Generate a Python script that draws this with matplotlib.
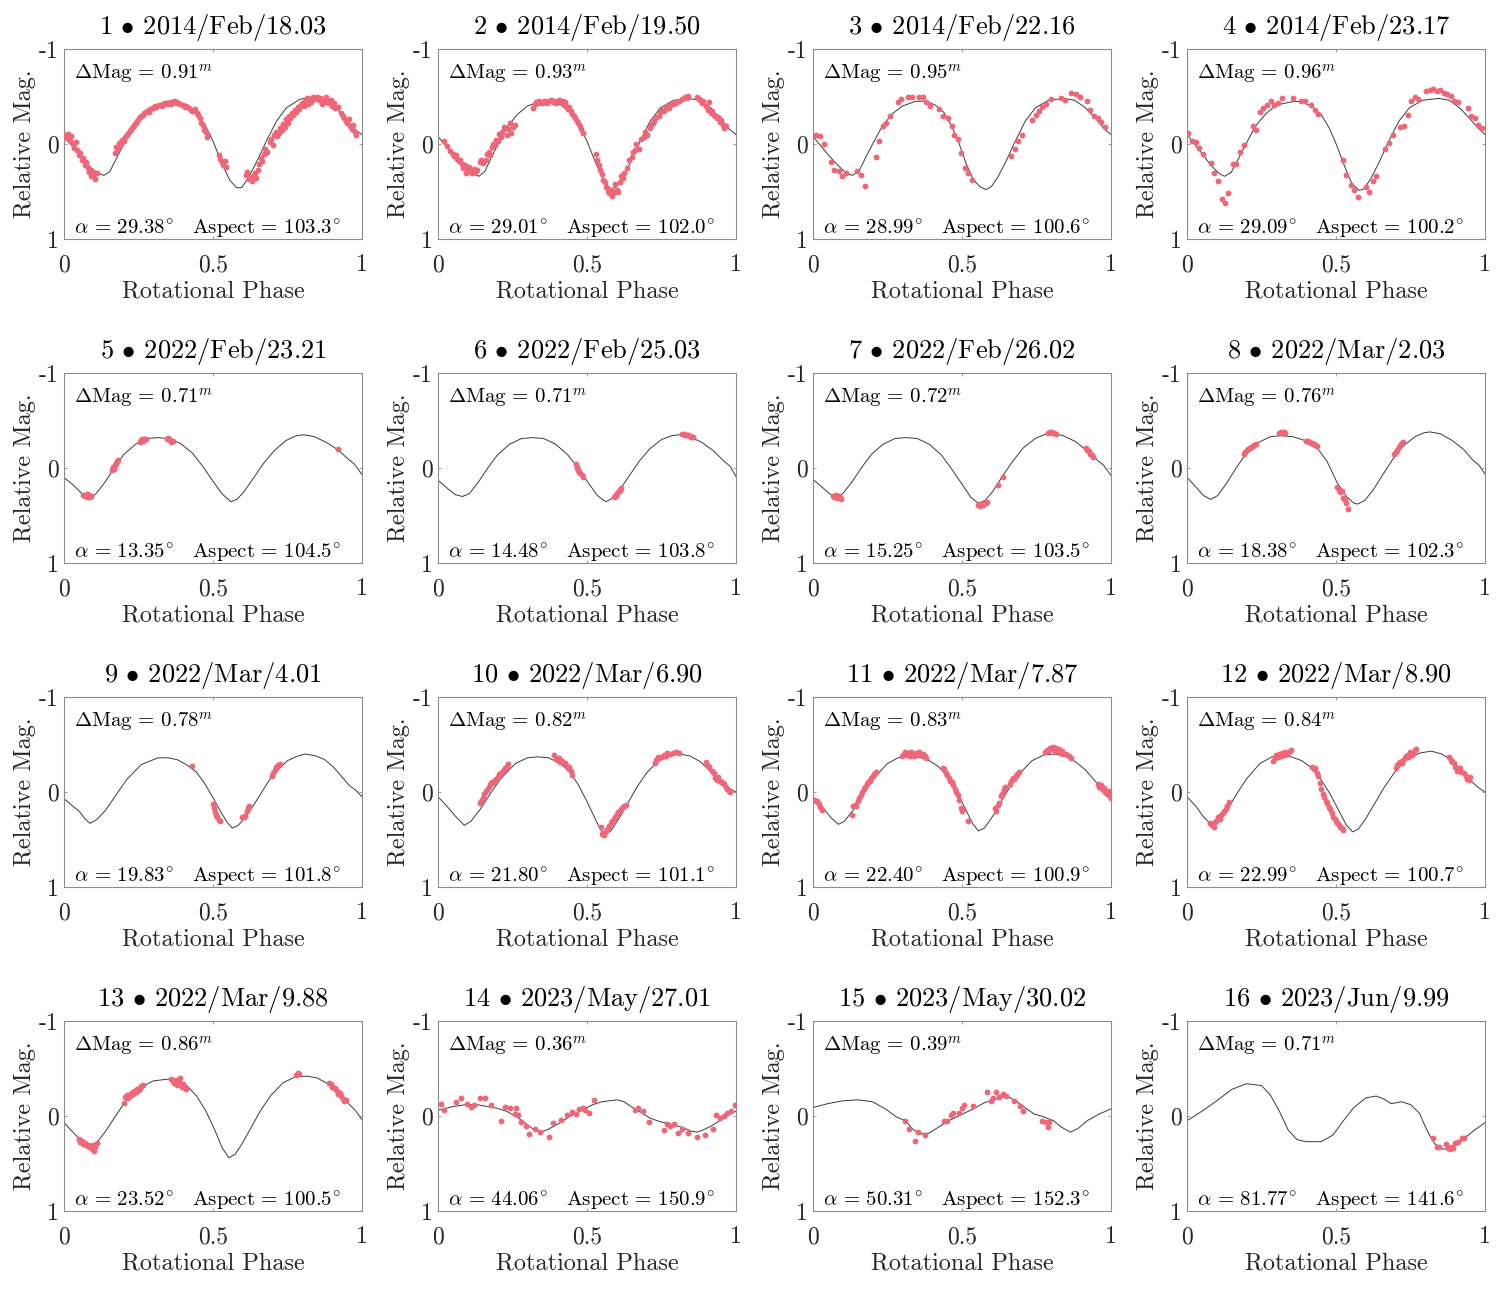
import matplotlib
matplotlib.use('Agg')
import matplotlib.pyplot as plt

plt.rcParams['font.family'] = 'serif'
plt.rcParams['font.serif'] = ['cmr10']
plt.rcParams['mathtext.fontset'] = 'cm'
plt.rcParams['axes.unicode_minus'] = False

# ---- panel info ----
dates = ['2014/Feb/18.03', '2014/Feb/19.50', '2014/Feb/22.16', '2014/Feb/23.17',
         '2022/Feb/23.21', '2022/Feb/25.03', '2022/Feb/26.02', '2022/Mar/2.03',
         '2022/Mar/4.01', '2022/Mar/6.90', '2022/Mar/7.87', '2022/Mar/8.90',
         '2022/Mar/9.88', '2023/May/27.01', '2023/May/30.02', '2023/Jun/9.99']
dmag = ['0.91', '0.93', '0.95', '0.96', '0.71', '0.71', '0.72', '0.76',
        '0.78', '0.82', '0.83', '0.84', '0.86', '0.36', '0.39', '0.71']
alpha = ['29.38', '29.01', '28.99', '29.09', '13.35', '14.48', '15.25', '18.38',
         '19.83', '21.80', '22.40', '22.99', '23.52', '44.06', '50.31', '81.77']
aspect = ['103.3', '102.0', '100.6', '100.2', '104.5', '103.8', '103.5', '102.3',
          '101.8', '101.1', '100.9', '100.7', '100.5', '150.9', '152.3', '141.6']

# ---- model light curves (phase, relative mag) ----
model_01 = [(0.0,-0.08),(0.054,0.12),(0.087,0.24),(0.115,0.31),(0.134,0.33),(0.154,0.29),(0.176,0.15),
            (0.199,0.01),(0.232,-0.19),(0.266,-0.31),(0.299,-0.40),(0.344,-0.45),(0.378,-0.44),(0.411,-0.40),
            (0.445,-0.33),(0.473,-0.20),(0.50,-0.03),(0.528,0.19),(0.556,0.38),(0.579,0.46),(0.596,0.46),
            (0.618,0.36),(0.646,0.19),(0.679,-0.03),(0.713,-0.24),(0.746,-0.38),(0.791,-0.47),(0.836,-0.50),
            (0.875,-0.47),(0.914,-0.38),(0.947,-0.26),(0.981,-0.14),(1.0,-0.10)]
model_02 = [(0.0,-0.08),(0.05,0.11),(0.085,0.23),(0.115,0.31),(0.137,0.34),(0.157,0.29),(0.178,0.15),
            (0.2,0.01),(0.232,-0.18),(0.266,-0.31),(0.3,-0.40),(0.345,-0.45),(0.38,-0.45),(0.412,-0.41),
            (0.445,-0.33),(0.473,-0.20),(0.5,-0.03),(0.528,0.19),(0.555,0.38),(0.578,0.47),(0.595,0.46),
            (0.617,0.37),(0.645,0.20),(0.678,-0.03),(0.712,-0.24),(0.746,-0.38),(0.79,-0.46),(0.84,-0.48),
            (0.878,-0.46),(0.915,-0.38),(0.948,-0.26),(0.98,-0.15),(1.0,-0.10)]
model_03 = [(0.0,-0.08),(0.05,0.11),(0.085,0.23),(0.113,0.31),(0.133,0.33),(0.155,0.28),(0.177,0.14),
            (0.2,0.0),(0.233,-0.19),(0.267,-0.32),(0.3,-0.40),(0.345,-0.45),(0.38,-0.45),(0.41,-0.41),
            (0.44,-0.33),(0.465,-0.19),(0.49,-0.01),(0.513,0.20),(0.537,0.37),(0.56,0.45),(0.58,0.48),
            (0.598,0.45),(0.62,0.35),(0.648,0.18),(0.679,-0.03),(0.712,-0.24),(0.746,-0.38),(0.79,-0.46),
            (0.84,-0.48),(0.878,-0.46),(0.915,-0.38),(0.948,-0.27),(0.98,-0.15),(1.0,-0.10)]
model_04 = [(0.0,-0.10),(0.05,0.10),(0.082,0.23),(0.108,0.31),(0.126,0.34),(0.148,0.30),(0.172,0.16),
            (0.196,0.01),(0.23,-0.19),(0.265,-0.32),(0.3,-0.41),(0.36,-0.45),(0.39,-0.44),(0.42,-0.39),
            (0.45,-0.31),(0.477,-0.17),(0.502,0.01),(0.527,0.22),(0.552,0.41),(0.578,0.49),(0.594,0.47),
            (0.616,0.37),(0.645,0.19),(0.677,-0.03),(0.711,-0.24),(0.746,-0.38),(0.79,-0.46),(0.845,-0.48),
            (0.88,-0.46),(0.915,-0.38),(0.948,-0.27),(0.98,-0.16),(1.0,-0.10)]
model_05 = [(0.0,0.10),(0.035,0.19),(0.06,0.27),(0.083,0.31),(0.105,0.28),(0.135,0.16),(0.167,0.01),
            (0.2,-0.14),(0.24,-0.25),(0.28,-0.31),(0.315,-0.32),(0.35,-0.31),(0.39,-0.26),(0.43,-0.16),
            (0.465,-0.02),(0.5,0.14),(0.53,0.27),(0.56,0.355),(0.58,0.33),(0.604,0.25),(0.635,0.11),
            (0.67,-0.05),(0.705,-0.18),(0.745,-0.29),(0.78,-0.34),(0.805,-0.35),(0.84,-0.33),(0.88,-0.27),
            (0.92,-0.19),(0.955,-0.09),(0.975,-0.04),(1.0,0.07)]
model_06 = [(0.0,0.13),(0.03,0.21),(0.058,0.28),(0.082,0.30),(0.105,0.27),(0.135,0.15),(0.167,0.0),
            (0.2,-0.14),(0.24,-0.25),(0.28,-0.31),(0.317,-0.32),(0.355,-0.31),(0.395,-0.25),(0.435,-0.14),
            (0.47,0.0),(0.505,0.16),(0.535,0.29),(0.563,0.355),(0.585,0.32),(0.61,0.23),(0.64,0.09),
            (0.675,-0.07),(0.71,-0.20),(0.75,-0.30),(0.785,-0.34),(0.81,-0.35),(0.845,-0.33),(0.885,-0.27),
            (0.925,-0.18),(0.96,-0.07),(0.98,-0.02),(1.0,0.09)]
model_07 = [(0.0,0.12),(0.03,0.20),(0.055,0.27),(0.077,0.30),(0.1,0.27),(0.13,0.15),(0.162,0.0),
            (0.195,-0.14),(0.235,-0.25),(0.275,-0.31),(0.31,-0.32),(0.35,-0.31),(0.39,-0.25),(0.43,-0.14),
            (0.465,0.01),(0.5,0.17),(0.53,0.31),(0.555,0.37),(0.578,0.34),(0.605,0.24),(0.635,0.09),
            (0.67,-0.07),(0.705,-0.21),(0.745,-0.31),(0.78,-0.355),(0.805,-0.365),(0.84,-0.34),(0.88,-0.28),
            (0.92,-0.18),(0.955,-0.08),(0.975,-0.03),(1.0,0.08)]
model_08 = [(0.0,0.10),(0.03,0.20),(0.055,0.29),(0.08,0.33),(0.103,0.29),(0.133,0.16),(0.165,0.0),
            (0.2,-0.16),(0.24,-0.27),(0.28,-0.33),(0.315,-0.34),(0.355,-0.33),(0.395,-0.29),(0.435,-0.22),
            (0.47,-0.07),(0.503,0.15),(0.535,0.30),(0.56,0.37),(0.573,0.38),(0.597,0.34),(0.625,0.23),
            (0.655,0.08),(0.69,-0.09),(0.725,-0.23),(0.765,-0.33),(0.795,-0.37),(0.815,-0.38),(0.85,-0.36),
            (0.89,-0.29),(0.93,-0.19),(0.96,-0.08),(0.98,-0.03),(1.0,0.065)]
model_09 = [(0.0,0.07),(0.03,0.15),(0.05,0.20),(0.07,0.28),(0.087,0.33),(0.11,0.29),(0.14,0.19),
            (0.175,0.03),(0.21,-0.13),(0.26,-0.29),(0.316,-0.36),(0.35,-0.36),(0.38,-0.34),(0.415,-0.28),
            (0.444,-0.21),(0.47,-0.10),(0.5,0.06),(0.53,0.23),(0.55,0.33),(0.565,0.38),(0.585,0.35),
            (0.61,0.26),(0.64,0.12),(0.67,-0.03),(0.70,-0.18),(0.75,-0.33),(0.785,-0.38),(0.81,-0.40),
            (0.845,-0.38),(0.875,-0.34),(0.905,-0.26),(0.935,-0.15),(0.96,-0.06),(0.975,-0.03),(0.985,0.0),
            (1.0,0.05)]
model_10 = [(0.0,0.05),(0.03,0.15),(0.06,0.26),(0.088,0.35),(0.11,0.31),(0.14,0.19),(0.175,0.02),
            (0.21,-0.14),(0.26,-0.30),(0.30,-0.36),(0.334,-0.37),(0.37,-0.36),(0.405,-0.31),(0.44,-0.22),
            (0.47,-0.08),(0.50,0.10),(0.53,0.30),(0.548,0.41),(0.56,0.45),(0.58,0.41),(0.605,0.29),
            (0.635,0.13),(0.665,-0.04),(0.70,-0.20),(0.74,-0.33),(0.775,-0.39),(0.81,-0.40),(0.845,-0.38),
            (0.88,-0.32),(0.91,-0.23),(0.94,-0.13),(0.97,-0.05),(1.0,0.0)]
model_11 = [(0.0,0.06),(0.03,0.15),(0.06,0.27),(0.085,0.34),(0.105,0.31),(0.135,0.19),(0.17,0.01),
            (0.205,-0.15),(0.25,-0.30),(0.285,-0.36),(0.31,-0.37),(0.35,-0.37),(0.385,-0.34),(0.42,-0.27),
            (0.45,-0.17),(0.48,-0.02),(0.51,0.17),(0.535,0.33),(0.555,0.41),(0.575,0.38),(0.60,0.27),
            (0.63,0.11),(0.66,-0.05),(0.695,-0.20),(0.735,-0.33),(0.775,-0.39),(0.81,-0.40),(0.845,-0.38),
            (0.88,-0.32),(0.915,-0.23),(0.945,-0.12),(0.975,-0.03),(1.0,0.04)]
model_12 = [(0.0,0.05),(0.03,0.15),(0.055,0.26),(0.08,0.34),(0.10,0.32),(0.13,0.21),(0.165,0.03),
            (0.20,-0.14),(0.245,-0.30),(0.285,-0.37),(0.315,-0.38),(0.35,-0.37),(0.385,-0.33),(0.42,-0.25),
            (0.45,-0.13),(0.48,0.02),(0.51,0.20),(0.535,0.35),(0.556,0.42),(0.575,0.39),(0.60,0.28),
            (0.63,0.12),(0.66,-0.04),(0.695,-0.20),(0.735,-0.34),(0.78,-0.41),(0.82,-0.43),(0.855,-0.40),
            (0.89,-0.33),(0.925,-0.22),(0.955,-0.11),(0.98,-0.04),(1.0,0.0)]
model_13 = [(0.0,0.07),(0.03,0.17),(0.06,0.27),(0.09,0.32),(0.11,0.28),(0.14,0.16),(0.175,-0.01),
            (0.21,-0.17),(0.25,-0.29),(0.30,-0.37),(0.355,-0.39),(0.385,-0.37),(0.415,-0.31),(0.445,-0.21),
            (0.475,-0.06),(0.505,0.14),(0.53,0.33),(0.553,0.44),(0.575,0.40),(0.60,0.28),(0.63,0.11),
            (0.66,-0.06),(0.695,-0.22),(0.735,-0.35),(0.775,-0.41),(0.815,-0.42),(0.85,-0.40),(0.885,-0.34),
            (0.92,-0.24),(0.955,-0.13),(0.98,-0.05),(1.0,0.04)]
model_14 = [(0.0,-0.06),(0.05,-0.10),(0.095,-0.12),(0.13,-0.12),(0.165,-0.10),(0.20,-0.08),(0.23,-0.05),
            (0.265,0.01),(0.295,0.08),(0.32,0.14),(0.345,0.17),(0.37,0.14),(0.405,0.08),(0.445,0.0),
            (0.487,-0.07),(0.52,-0.12),(0.55,-0.15),(0.60,-0.17),(0.625,-0.15),(0.647,-0.10),(0.68,-0.04),
            (0.71,0.02),(0.745,0.06),(0.775,0.08),(0.82,0.12),(0.85,0.16),(0.87,0.17),(0.895,0.14),
            (0.92,0.10),(0.945,0.05),(0.967,0.0),(1.0,-0.05)]
model_15 = [(0.0,-0.09),(0.05,-0.13),(0.10,-0.16),(0.15,-0.17),(0.20,-0.15),(0.245,-0.07),(0.28,0.01),
            (0.31,0.05),(0.335,0.14),(0.358,0.19),(0.39,0.18),(0.42,0.12),(0.455,0.05),(0.495,-0.01),
            (0.535,-0.07),(0.575,-0.14),(0.615,-0.18),(0.65,-0.21),(0.68,-0.16),(0.71,-0.09),(0.743,-0.02),
            (0.775,0.01),(0.807,0.05),(0.835,0.12),(0.864,0.17),(0.89,0.13),(0.92,0.05),(0.96,-0.02),
            (1.0,-0.075)]
model_16 = [(0.0,0.05),(0.05,-0.05),(0.10,-0.16),(0.15,-0.28),(0.20,-0.34),(0.25,-0.32),(0.28,-0.22),
            (0.31,-0.05),(0.34,0.15),(0.37,0.25),(0.40,0.27),(0.45,0.27),(0.49,0.20),(0.52,0.07),
            (0.56,-0.09),(0.60,-0.19),(0.635,-0.21),(0.66,-0.18),(0.685,-0.13),(0.72,-0.15),(0.75,-0.12),
            (0.78,-0.03),(0.805,0.15),(0.83,0.29),(0.86,0.35),(0.89,0.33),(0.92,0.26),(0.96,0.16),
            (1.0,0.07)]

# ---- observed points (phase, relative mag) ----
obs_01 = [(0.005,-0.10),(0.01,-0.06),(0.015,-0.11),(0.02,-0.03),(0.025,-0.08),(0.03,0.0),(0.035,0.04),
          (0.04,-0.02),(0.045,0.06),(0.05,0.12),(0.055,0.09),(0.06,0.17),(0.065,0.15),(0.07,0.22),
          (0.075,0.19),(0.08,0.25),(0.085,0.29),(0.09,0.34),(0.095,0.28),(0.10,0.32),(0.105,0.37),
          (0.11,0.30),(0.17,0.09),(0.175,0.03),(0.18,0.05),(0.185,-0.01),(0.19,0.0),(0.195,-0.04),
          (0.20,-0.03),(0.205,-0.07),(0.21,-0.09),(0.215,-0.12),(0.22,-0.14),(0.225,-0.16),(0.23,-0.18),
          (0.235,-0.20),(0.24,-0.22),(0.245,-0.24),(0.25,-0.27),(0.255,-0.28),(0.26,-0.30),(0.265,-0.31),
          (0.27,-0.33),(0.28,-0.35),(0.285,-0.34),(0.29,-0.37),(0.30,-0.38),(0.305,-0.40),(0.31,-0.39),
          (0.32,-0.41),(0.33,-0.40),(0.34,-0.43),(0.35,-0.42),(0.355,-0.44),(0.36,-0.42),(0.37,-0.45),
          (0.375,-0.43),(0.38,-0.44),(0.39,-0.42),(0.40,-0.41),(0.405,-0.39),(0.41,-0.40),(0.42,-0.38),
          (0.425,-0.36),(0.43,-0.35),(0.44,-0.37),(0.445,-0.33),(0.45,-0.31),(0.455,-0.27),(0.46,-0.22),
          (0.465,-0.20),(0.47,-0.15),(0.475,-0.13),(0.48,-0.07),(0.52,0.12),(0.525,0.16),(0.53,0.19),
          (0.535,0.22),(0.54,0.18),(0.545,0.24),(0.61,0.33),(0.615,0.29),(0.62,0.37),(0.625,0.36),
          (0.63,0.39),(0.635,0.34),(0.64,0.30),(0.645,0.36),(0.65,0.27),(0.655,0.21),(0.66,0.15),
          (0.665,0.18),(0.67,0.11),(0.675,0.05),(0.68,0.08),(0.69,-0.02),(0.695,-0.05),(0.70,0.01),
          (0.705,-0.09),(0.71,-0.13),(0.715,-0.08),(0.72,-0.12),(0.725,-0.17),(0.73,-0.15),(0.735,-0.21),
          (0.74,-0.18),(0.745,-0.26),(0.75,-0.22),(0.755,-0.29),(0.76,-0.27),(0.765,-0.33),(0.77,-0.31),
          (0.775,-0.36),(0.78,-0.34),(0.785,-0.39),(0.79,-0.37),(0.795,-0.41),(0.80,-0.43),(0.805,-0.40),
          (0.81,-0.45),(0.815,-0.48),(0.82,-0.42),(0.825,-0.46),(0.83,-0.44),(0.835,-0.49),(0.84,-0.47),
          (0.85,-0.50),(0.855,-0.46),(0.86,-0.48),(0.865,-0.42),(0.87,-0.47),(0.875,-0.44),(0.88,-0.49),
          (0.885,-0.45),(0.89,-0.43),(0.895,-0.46),(0.90,-0.40),(0.905,-0.43),(0.91,-0.38),(0.92,-0.39),
          (0.93,-0.33),(0.935,-0.30),(0.94,-0.27),(0.945,-0.24),(0.95,-0.22),(0.955,-0.26),(0.96,-0.19),
          (0.965,-0.16),(0.97,-0.20),(0.975,-0.13),(0.98,-0.10)]
obs_02 = [(0.02,-0.03),(0.03,0.02),(0.04,0.07),(0.05,0.10),(0.055,0.13),(0.06,0.12),(0.065,0.16),
          (0.07,0.18),(0.075,0.17),(0.08,0.21),(0.085,0.25),(0.09,0.22),(0.095,0.31),(0.10,0.27),
          (0.105,0.24),(0.11,0.28),(0.115,0.30),(0.12,0.26),(0.125,0.29),(0.13,0.27),(0.14,0.19),
          (0.145,0.17),(0.15,0.20),(0.16,0.17),(0.165,0.10),(0.17,0.08),(0.175,0.12),(0.18,0.03),
          (0.185,0.0),(0.19,0.01),(0.195,-0.04),(0.20,-0.03),(0.205,-0.11),(0.21,-0.07),(0.215,-0.13),
          (0.22,-0.18),(0.23,-0.10),(0.235,-0.16),(0.24,-0.22),(0.245,-0.12),(0.25,-0.18),(0.26,-0.20),
          (0.32,-0.38),(0.325,-0.42),(0.33,-0.44),(0.335,-0.43),(0.34,-0.45),(0.35,-0.43),(0.355,-0.45),
          (0.36,-0.44),(0.365,-0.43),(0.37,-0.45),(0.38,-0.46),(0.385,-0.44),(0.39,-0.45),(0.395,-0.43),
          (0.40,-0.44),(0.405,-0.46),(0.41,-0.45),(0.415,-0.43),(0.42,-0.45),(0.425,-0.44),(0.43,-0.40),
          (0.435,-0.37),(0.44,-0.39),(0.445,-0.35),(0.45,-0.32),(0.455,-0.29),(0.46,-0.27),(0.465,-0.24),
          (0.47,-0.22),(0.475,-0.19),(0.48,-0.16),(0.485,-0.12),(0.53,0.11),(0.535,0.17),(0.54,0.22),
          (0.545,0.27),(0.55,0.32),(0.555,0.38),(0.56,0.40),(0.565,0.45),(0.57,0.49),(0.575,0.52),
          (0.58,0.48),(0.585,0.55),(0.59,0.50),(0.595,0.42),(0.60,0.48),(0.605,0.51),(0.61,0.40),
          (0.615,0.34),(0.62,0.36),(0.625,0.30),(0.635,0.25),(0.64,0.17),(0.65,0.14),(0.655,0.08),
          (0.66,0.06),(0.665,0.0),(0.675,0.05),(0.68,-0.05),(0.69,-0.07),(0.695,-0.13),(0.70,-0.10),
          (0.71,-0.17),(0.715,-0.20),(0.72,-0.22),(0.725,-0.24),(0.73,-0.28),(0.74,-0.30),(0.745,-0.34),
          (0.75,-0.36),(0.76,-0.35),(0.765,-0.38),(0.77,-0.40),(0.775,-0.38),(0.78,-0.41),(0.79,-0.42),
          (0.795,-0.44),(0.80,-0.43),(0.81,-0.45),(0.82,-0.47),(0.83,-0.50),(0.835,-0.48),(0.84,-0.51),
          (0.87,-0.49),(0.875,-0.47),(0.88,-0.46),(0.885,-0.43),(0.89,-0.45),(0.90,-0.40),(0.905,-0.36),
          (0.91,-0.44),(0.915,-0.33),(0.92,-0.35),(0.925,-0.31),(0.93,-0.30),(0.935,-0.27),(0.94,-0.28),
          (0.945,-0.23),(0.95,-0.25),(0.955,-0.20),(0.96,-0.17),(0.965,-0.19)]
obs_03 = [(0.011,-0.09),(0.025,-0.08),(0.036,0.0),(0.061,0.19),(0.072,0.27),(0.087,0.28),(0.098,0.34),
          (0.111,0.31),(0.147,0.28),(0.162,0.33),(0.173,0.44),(0.210,0.14),(0.221,-0.03),(0.234,-0.19),
          (0.245,-0.22),(0.259,-0.30),(0.284,-0.44),(0.295,-0.47),(0.318,-0.50),(0.331,-0.49),
          (0.355,-0.50),(0.368,-0.50),(0.379,-0.44),(0.392,-0.40),(0.424,-0.37),(0.435,-0.29),
          (0.452,-0.27),(0.466,-0.19),(0.474,-0.10),(0.485,-0.05),(0.498,0.09),(0.509,0.25),(0.521,0.30),
          (0.535,0.38),(0.663,0.13),(0.677,0.05),(0.689,-0.03),(0.700,-0.10),(0.734,-0.25),(0.747,-0.31),
          (0.758,-0.35),(0.769,-0.39),(0.783,-0.42),(0.797,-0.47),(0.831,-0.48),(0.845,-0.46),
          (0.867,-0.54),(0.881,-0.53),(0.895,-0.50),(0.918,-0.45),(0.931,-0.36),(0.944,-0.30),
          (0.957,-0.27),(0.968,-0.23),(0.981,-0.18)]
obs_04 = [(0.004,-0.12),(0.017,-0.03),(0.030,-0.02),(0.041,0.04),(0.055,0.10),(0.080,0.20),(0.091,0.30),
          (0.103,0.39),(0.116,0.58),(0.128,0.62),(0.139,0.52),(0.153,0.21),(0.164,0.21),(0.177,0.08),
          (0.190,0.01),(0.220,-0.19),(0.233,-0.15),(0.245,-0.34),(0.256,-0.38),(0.270,-0.41),
          (0.281,-0.45),(0.292,-0.41),(0.305,-0.43),(0.318,-0.48),(0.356,-0.48),(0.381,-0.45),
          (0.395,-0.45),(0.417,-0.41),(0.429,-0.36),(0.440,-0.32),(0.524,0.17),(0.535,0.33),(0.549,0.43),
          (0.561,0.48),(0.574,0.56),(0.599,0.45),(0.610,0.51),(0.623,0.39),(0.635,0.34),(0.666,0.05),
          (0.679,-0.01),(0.691,-0.10),(0.714,-0.18),(0.727,-0.19),(0.741,-0.31),(0.753,-0.45),
          (0.764,-0.49),(0.775,-0.47),(0.803,-0.56),(0.816,-0.57),(0.827,-0.58),(0.838,-0.56),
          (0.850,-0.57),(0.861,-0.54),(0.872,-0.53),(0.885,-0.51),(0.897,-0.45),(0.911,-0.44),
          (0.942,-0.38),(0.953,-0.29),(0.967,-0.27),(0.978,-0.20),(0.991,-0.17)]
obs_05 = [(0.065,0.28),(0.07,0.30),(0.075,0.29),(0.078,0.27),(0.08,0.31),(0.085,0.28),(0.088,0.31),
          (0.09,0.30),(0.162,0.02),(0.166,-0.01),(0.168,0.01),(0.17,-0.03),(0.174,-0.04),(0.176,-0.05),
          (0.178,-0.07),(0.182,-0.08),(0.255,-0.27),(0.26,-0.29),(0.262,-0.30),(0.265,-0.28),
          (0.27,-0.31),(0.275,-0.31),(0.345,-0.31),(0.35,-0.32),(0.352,-0.30),(0.355,-0.29),
          (0.36,-0.27),(0.365,-0.28),(0.918,-0.20)]
obs_06 = [(0.462,-0.04),(0.466,-0.01),(0.468,0.0),(0.47,0.02),(0.474,0.04),(0.478,0.05),(0.482,0.07),
          (0.486,0.09),(0.59,0.31),(0.594,0.29),(0.596,0.30),(0.598,0.28),(0.602,0.26),(0.606,0.24),
          (0.61,0.23),(0.613,0.21),(0.82,-0.36),(0.825,-0.36),(0.83,-0.35),(0.835,-0.35),(0.84,-0.35),
          (0.845,-0.34),(0.85,-0.33),(0.855,-0.33)]
obs_07 = [(0.066,0.29),(0.07,0.31),(0.075,0.30),(0.078,0.28),(0.08,0.32),(0.085,0.29),(0.09,0.31),
          (0.093,0.33),(0.555,0.39),(0.56,0.40),(0.565,0.38),(0.57,0.39),(0.575,0.37),(0.58,0.37),
          (0.583,0.36),(0.62,0.18),(0.636,0.10),(0.79,-0.37),(0.795,-0.38),(0.80,-0.38),(0.805,-0.37),
          (0.81,-0.37),(0.815,-0.36),(0.915,-0.21),(0.92,-0.19),(0.925,-0.18),(0.93,-0.15),
          (0.935,-0.14),(0.94,-0.12)]
obs_08 = [(0.19,-0.15),(0.195,-0.17),(0.20,-0.19),(0.205,-0.20),(0.21,-0.21),(0.215,-0.22),(0.22,-0.23),
          (0.225,-0.24),(0.23,-0.25),(0.31,-0.37),(0.315,-0.38),(0.32,-0.37),(0.325,-0.38),(0.33,-0.37),
          (0.40,-0.28),(0.405,-0.28),(0.41,-0.27),(0.415,-0.26),(0.42,-0.26),(0.425,-0.25),(0.43,-0.24),
          (0.435,-0.23),(0.505,0.20),(0.51,0.23),(0.515,0.25),(0.52,0.24),(0.525,0.32),(0.53,0.34),
          (0.535,0.37),(0.54,0.43),(0.695,-0.15),(0.70,-0.17),(0.705,-0.19),(0.71,-0.22),(0.715,-0.24),
          (0.72,-0.26),(0.725,-0.27)]
obs_09 = [(0.428,-0.27),(0.50,0.13),(0.503,0.17),(0.507,0.21),(0.51,0.24),(0.515,0.26),(0.52,0.29),
          (0.525,0.31),(0.597,0.26),(0.603,0.26),(0.608,0.25),(0.613,0.20),(0.617,0.17),(0.622,0.15),
          (0.697,-0.17),(0.702,-0.20),(0.708,-0.23),(0.713,-0.26),(0.718,-0.28),(0.724,-0.29)]
obs_10 = [(0.14,0.12),(0.145,0.10),(0.15,0.06),(0.155,0.02),(0.16,-0.01),(0.165,-0.02),(0.17,-0.05),
          (0.175,-0.08),(0.18,-0.10),(0.185,-0.09),(0.19,-0.13),(0.195,-0.14),(0.20,-0.16),(0.205,-0.19),
          (0.21,-0.20),(0.215,-0.21),(0.22,-0.23),(0.225,-0.25),(0.23,-0.26),(0.235,-0.29),
          (0.388,-0.39),(0.395,-0.35),(0.40,-0.34),(0.405,-0.36),(0.41,-0.32),(0.415,-0.33),(0.42,-0.30),
          (0.425,-0.31),(0.43,-0.28),(0.435,-0.25),(0.44,-0.26),(0.445,-0.22),(0.45,-0.18),
          (0.547,0.37),(0.552,0.44),(0.557,0.45),(0.56,0.42),(0.565,0.41),(0.57,0.38),(0.575,0.36),
          (0.58,0.33),(0.585,0.31),(0.59,0.28),(0.595,0.26),(0.60,0.23),(0.605,0.21),(0.61,0.20),
          (0.615,0.18),(0.62,0.16),(0.625,0.15),(0.63,0.14),(0.727,-0.31),(0.732,-0.34),(0.737,-0.37),
          (0.742,-0.36),(0.75,-0.37),(0.758,-0.39),(0.765,-0.38),(0.77,-0.41),(0.78,-0.40),(0.79,-0.41),
          (0.80,-0.42),(0.81,-0.41),(0.90,-0.32),(0.905,-0.27),(0.91,-0.26),(0.92,-0.22),(0.925,-0.20),
          (0.93,-0.15),(0.935,-0.13),(0.94,-0.16),(0.945,-0.12),(0.95,-0.11),(0.955,-0.09),(0.96,-0.08),
          (0.965,-0.05),(0.97,-0.03),(0.975,-0.01),(0.98,0.0)]
obs_11 = [(0.005,0.08),(0.01,0.10),(0.015,0.09),(0.02,0.13),(0.025,0.16),(0.03,0.19),(0.13,0.24),
          (0.135,0.15),(0.14,0.14),(0.145,0.15),(0.15,0.10),(0.155,0.06),(0.16,0.03),(0.165,0.0),
          (0.17,-0.03),(0.175,-0.05),(0.18,-0.08),(0.185,-0.10),(0.19,-0.12),(0.195,-0.15),(0.20,-0.17),
          (0.205,-0.19),(0.21,-0.21),(0.30,-0.38),(0.305,-0.40),(0.31,-0.42),(0.315,-0.39),(0.32,-0.41),
          (0.325,-0.38),(0.33,-0.42),(0.335,-0.40),(0.34,-0.38),(0.345,-0.41),(0.35,-0.39),(0.355,-0.42),
          (0.36,-0.40),(0.365,-0.39),(0.37,-0.40),(0.375,-0.38),(0.38,-0.36),(0.435,-0.25),(0.44,-0.24),
          (0.445,-0.20),(0.45,-0.18),(0.455,-0.15),(0.46,-0.12),(0.465,-0.10),(0.47,-0.07),(0.475,-0.03),
          (0.48,0.0),(0.485,0.03),(0.49,0.08),(0.495,0.17),(0.50,0.20),(0.505,0.18),(0.52,0.31),
          (0.61,0.17),(0.615,0.20),(0.62,0.14),(0.625,0.12),(0.63,0.04),(0.635,0.02),(0.64,-0.02),
          (0.645,-0.05),(0.66,-0.08),(0.665,-0.12),(0.67,-0.15),(0.675,-0.14),(0.68,-0.17),(0.685,-0.19),
          (0.69,-0.21),(0.78,-0.42),(0.785,-0.44),(0.79,-0.43),(0.795,-0.46),(0.80,-0.45),(0.805,-0.47),
          (0.81,-0.44),(0.815,-0.46),(0.82,-0.43),(0.825,-0.45),(0.83,-0.41),(0.835,-0.43),(0.84,-0.40),
          (0.85,-0.40),(0.86,-0.38),(0.865,-0.36),(0.955,-0.08),(0.96,-0.05),(0.965,-0.07),(0.97,-0.03),
          (0.975,-0.04),(0.98,0.0),(0.985,0.02),(0.99,-0.01),(0.995,0.04),(1.0,0.06)]
obs_12 = [(0.077,0.33),(0.085,0.35),(0.09,0.37),(0.095,0.32),(0.10,0.30),(0.105,0.26),(0.11,0.28),
          (0.115,0.24),(0.12,0.22),(0.125,0.20),(0.13,0.18),(0.135,0.15),(0.14,0.11),(0.29,-0.33),
          (0.295,-0.36),(0.30,-0.39),(0.305,-0.37),(0.31,-0.40),(0.315,-0.38),(0.32,-0.41),(0.325,-0.39),
          (0.33,-0.42),(0.335,-0.40),(0.34,-0.41),(0.345,-0.43),(0.35,-0.44),(0.42,-0.26),(0.425,-0.24),
          (0.43,-0.25),(0.435,-0.20),(0.44,-0.17),(0.445,-0.09),(0.45,-0.03),(0.455,0.02),(0.46,0.05),
          (0.465,0.09),(0.47,0.12),(0.475,0.16),(0.48,0.18),(0.485,0.22),(0.49,0.26),(0.495,0.28),
          (0.50,0.31),(0.505,0.33),(0.51,0.35),(0.515,0.37),(0.52,0.38),(0.525,0.40),(0.70,-0.25),
          (0.705,-0.28),(0.71,-0.30),(0.715,-0.32),(0.72,-0.31),(0.725,-0.34),(0.73,-0.36),(0.735,-0.38),
          (0.74,-0.37),(0.745,-0.40),(0.75,-0.42),(0.755,-0.39),(0.76,-0.41),(0.765,-0.44),(0.77,-0.45),
          (0.88,-0.37),(0.885,-0.34),(0.89,-0.32),(0.895,-0.30),(0.90,-0.26),(0.905,-0.22),(0.91,-0.24),
          (0.915,-0.25),(0.92,-0.21),(0.93,-0.20),(0.935,-0.17),(0.94,-0.14),(0.945,-0.13),(0.95,-0.16)]
obs_13 = [(0.05,0.24),(0.055,0.27),(0.06,0.26),(0.065,0.29),(0.07,0.28),(0.075,0.31),(0.08,0.30),
          (0.085,0.33),(0.09,0.32),(0.095,0.35),(0.098,0.30),(0.10,0.37),(0.105,0.33),(0.11,0.28),
          (0.20,-0.14),(0.205,-0.20),(0.21,-0.22),(0.215,-0.19),(0.22,-0.21),(0.225,-0.24),(0.23,-0.23),
          (0.235,-0.26),(0.24,-0.25),(0.245,-0.28),(0.25,-0.27),(0.255,-0.30),(0.26,-0.32),(0.265,-0.33),
          (0.36,-0.39),(0.365,-0.37),(0.37,-0.35),(0.375,-0.38),(0.38,-0.33),(0.385,-0.36),(0.39,-0.40),
          (0.395,-0.31),(0.40,-0.34),(0.405,-0.30),(0.41,-0.28),(0.78,-0.43),(0.785,-0.45),(0.79,-0.44),
          (0.89,-0.35),(0.895,-0.34),(0.90,-0.31),(0.905,-0.29),(0.91,-0.30),(0.915,-0.26),(0.92,-0.23),
          (0.925,-0.24),(0.93,-0.21),(0.935,-0.18),(0.94,-0.16),(0.945,-0.17)]
obs_14 = [(0.01,-0.13),(0.02,-0.06),(0.06,-0.15),(0.077,-0.19),(0.098,-0.13),(0.11,-0.09),(0.122,-0.12),
          (0.141,-0.19),(0.157,-0.19),(0.177,-0.12),(0.213,0.05),(0.225,-0.09),(0.242,-0.08),
          (0.257,-0.02),(0.262,-0.08),(0.27,-0.01),(0.278,0.06),(0.294,0.11),(0.305,0.19),(0.326,0.14),
          (0.342,0.17),(0.374,0.22),(0.387,0.07),(0.414,0.04),(0.433,-0.01),(0.449,-0.04),(0.462,-0.02),
          (0.474,-0.07),(0.486,-0.08),(0.494,-0.06),(0.506,-0.03),(0.522,-0.17),(0.66,-0.06),
          (0.671,-0.08),(0.687,-0.05),(0.708,0.06),(0.759,0.15),(0.767,0.08),(0.78,0.11),(0.791,0.08),
          (0.804,0.18),(0.82,0.14),(0.839,0.18),(0.868,0.22),(0.896,0.20),(0.923,0.14),(0.933,-0.01),
          (0.947,0.02),(0.96,0.0),(0.971,-0.03),(0.984,-0.05),(0.997,-0.12)]
obs_15 = [(0.31,0.05),(0.321,0.14),(0.342,0.26),(0.353,0.17),(0.377,0.20),(0.441,0.05),(0.451,0.05),
          (0.462,-0.01),(0.47,-0.03),(0.49,-0.03),(0.499,-0.08),(0.506,-0.12),(0.538,-0.11),
          (0.583,-0.25),(0.596,-0.16),(0.604,-0.19),(0.615,-0.25),(0.623,-0.20),(0.636,-0.23),
          (0.647,-0.21),(0.674,-0.16),(0.695,-0.11),(0.706,-0.05),(0.77,0.05),(0.783,0.06),
          (0.787,0.12),(0.791,0.06)]
obs_16 = [(0.826,0.23),(0.839,0.33),(0.847,0.33),(0.868,0.29),(0.876,0.34),(0.882,0.35),(0.887,0.33),
          (0.892,0.34),(0.90,0.28),(0.911,0.27),(0.923,0.23),(0.931,0.23)]

models = [model_01, model_02, model_03, model_04, model_05, model_06, model_07, model_08,
          model_09, model_10, model_11, model_12, model_13, model_14, model_15, model_16]
observations = [obs_01, obs_02, obs_03, obs_04, obs_05, obs_06, obs_07, obs_08,
                obs_09, obs_10, obs_11, obs_12, obs_13, obs_14, obs_15, obs_16]

W, H = 1498, 1290
fig = plt.figure(figsize=(W / 100, H / 100), dpi=100)

col_left = [64, 438, 813, 1187]
row_top = [49, 373, 697, 1021]
ax_w, ax_h = 298, 190
text_col = '#262626'
frame_col = '#8c8c8c'

for i in range(16):
    r, c = divmod(i, 4)
    ax = fig.add_axes([col_left[c] / W, 1 - (row_top[r] + ax_h) / H, ax_w / W, ax_h / H])

    mx = [p[0] for p in models[i]]
    my = [p[1] for p in models[i]]
    ax.plot(mx, my, color='#3a3a3a', lw=0.7, zorder=2)

    ox = [p[0] for p in observations[i]]
    oy = [p[1] for p in observations[i]]
    ax.plot(ox, oy, 'o', ms=4.2, mfc='#EE6677', mec='none', zorder=3)

    ax.set_xlim(0, 1)
    ax.set_ylim(1, -1)
    ax.set_xticks([0, 0.5, 1])
    ax.set_xticklabels(['0', '0.5', '1'])
    ax.set_yticks([-1, 0, 1])
    ax.set_yticklabels(['-1', '0', '1'])
    ax.tick_params(direction='in', length=2.5, width=0.6, color=frame_col,
                   top=True, right=True, labelsize=17, labelcolor=text_col)
    ax.tick_params(axis='x', pad=11)
    ax.tick_params(axis='y', pad=4)
    for s in ax.spines.values():
        s.set_color(frame_col)
        s.set_linewidth(0.8)

    ax.set_xlabel('Rotational Phase', fontsize=17.5, color=text_col, labelpad=3)
    ax.set_ylabel('Relative Mag.', fontsize=17.5, color=text_col, labelpad=2)
    ax.set_title(f'{i + 1} $\\bullet$ {dates[i]}', fontsize=19, color='black', pad=11)

    ax.text(0.034, 0.93, r'$\Delta\mathrm{Mag} \,=\, ' + dmag[i] + r'^m$',
            transform=ax.transAxes, fontsize=15, va='top', ha='left', color='black')
    ax.text(0.034, 0.022, r'$\alpha \,=\, ' + alpha[i] + r'^{\circ} \quad \mathrm{Aspect} \,=\, '
            + aspect[i] + r'^{\circ}$',
            transform=ax.transAxes, fontsize=15, va='baseline', ha='left', color='black')

fig.savefig('out.png', dpi=100, facecolor='white')
